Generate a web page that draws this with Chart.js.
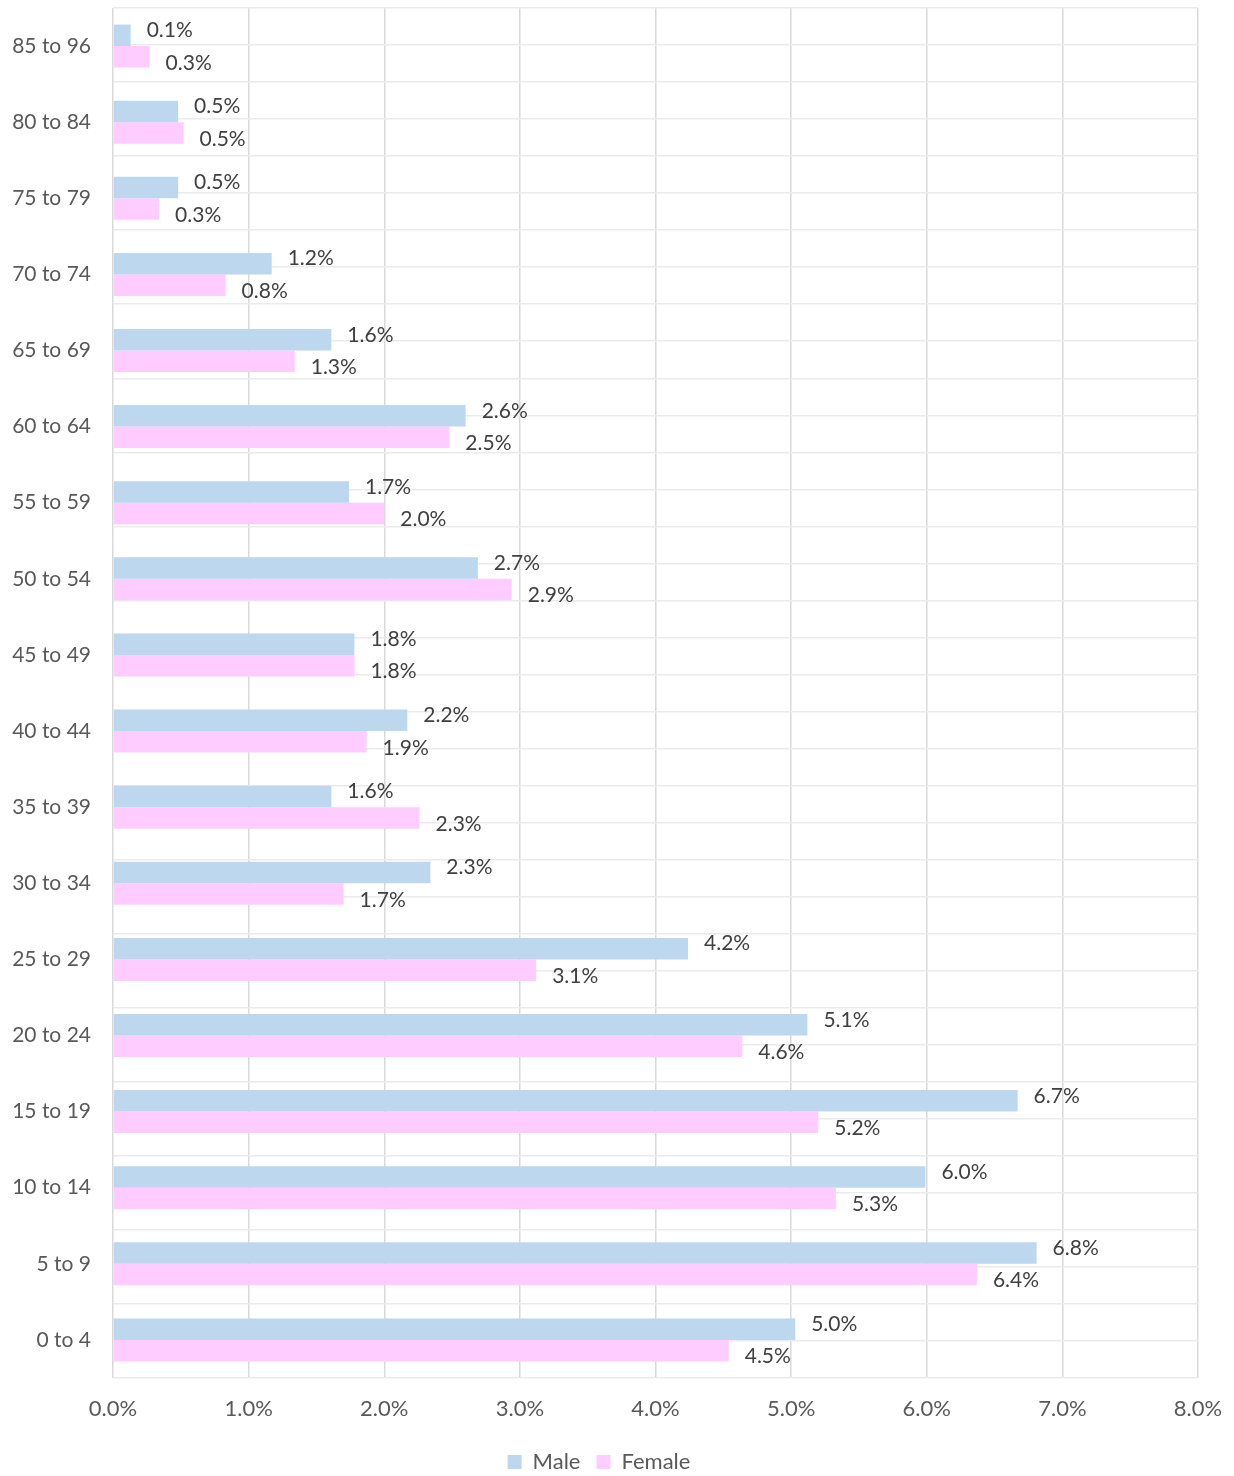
<!DOCTYPE html>
<html>
<head>
<meta charset="utf-8">
<script src="https://cdn.jsdelivr.net/npm/chart.js@4.4.1/dist/chart.umd.min.js"></script>
<style>
  body { margin: 0; background: #ffffff; }
  #wrap { width: 1234px; height: 1476px; }
</style>
</head>
<body>
<div id="wrap"><canvas id="popChart" width="1234" height="1476"></canvas></div>
<script>
//age groups, top to bottom as in the picture
const ageGroups = [
  "85 to 96", "80 to 84", "75 to 79", "70 to 74", "65 to 69", "60 to 64",
  "55 to 59", "50 to 54", "45 to 49", "40 to 44", "35 to 39", "30 to 34",
  "25 to 29", "20 to 24", "15 to 19", "10 to 14", "5 to 9", "0 to 4"
];
//percent of population, male
const maleValues = [
  0.13, 0.48, 0.48, 1.17, 1.61, 2.6, 1.74, 2.69, 1.78,
  2.17, 1.61, 2.34, 4.24, 5.12, 6.67, 5.99, 6.81, 5.03
];
//percent of population, female
const femaleValues = [
  0.27, 0.52, 0.34, 0.83, 1.34, 2.48, 2.0, 2.94, 1.78,
  1.87, 2.26, 1.7, 3.12, 4.64, 5.2, 5.33, 6.37, 4.54
];
const xTicks = [0, 1, 2, 3, 4, 5, 6, 7, 8];

const FONT = "Lato, 'Open Sans', sans-serif";

/**
 * writes the value at the end of every bar, Excel style
 */
const barLabels = {
  id: "barLabels",
  afterDatasetsDraw(chart) {
    const ctx = chart.ctx;
    ctx.save();
    ctx.font = "21px " + FONT;
    ctx.fillStyle = "#404040";
    ctx.textAlign = "left";
    ctx.textBaseline = "middle";
    chart.data.datasets.forEach((ds, di) => {
      const meta = chart.getDatasetMeta(di);
      const shift = di === 0 ? -5 : 6; //male sits a bit high, female a bit low
      meta.data.forEach((bar, i) => {
        ctx.fillText(ds.data[i].toFixed(1) + "%", bar.x + 16, bar.y + shift);
      });
    });
    ctx.restore();
  },
};

const ctx = document.getElementById("popChart").getContext("2d");
new Chart(ctx, {
  type: "bar",
  data: {
    labels: ageGroups,
    datasets: [
      {
        label: "Male",
        data: maleValues,
        backgroundColor: "#BDD7EE",
        borderWidth: 0,
        categoryPercentage: 0.565,
        barPercentage: 1.0,
      },
      {
        label: "Female",
        data: femaleValues,
        backgroundColor: "#FFCCFF",
        borderWidth: 0,
        categoryPercentage: 0.565,
        barPercentage: 1.0,
      },
    ],
  },
  options: {
    indexAxis: "y",
    responsive: false,
    animation: false,
    //negative bottom pushes the legend a little lower, as in the reference
    layout: { padding: { top: 8, right: 36, left: 0, bottom: -7 } },
    scales: {
      x: {
        min: 0,
        max: 8,
        afterBuildTicks: (scale) => {
          scale.ticks = xTicks.map((v) => ({ value: v }));
        },
        afterFit: (scale) => {
          scale.height = 57;
          scale.paddingLeft = 0;
          scale.paddingRight = 0;
        },
        ticks: {
          callback: (v) => v.toFixed(1) + "%",
          color: "#595959",
          font: { family: FONT, size: 22 },
          padding: 18,
        },
        grid: { color: "#d9d9d9", lineWidth: 1.5, drawTicks: false },
        border: { display: false },
      },
      y: {
        afterFit: (scale) => {
          scale.width = 113;
          scale.paddingTop = 0;
          scale.paddingBottom = 0;
        },
        ticks: {
          color: "#595959",
          font: { family: FONT, size: 21 },
          padding: 22,
        },
        grid: { display: false, drawTicks: false },
        border: { display: false },
      },
      //half-row lines, like the reference's horizontal gridlines
      rows: {
        type: "linear",
        position: "right",
        min: 0,
        max: ageGroups.length * 2,
        ticks: { display: false, stepSize: 1 },
        grid: { color: "#ebebeb", lineWidth: 1.5, drawTicks: false },
        border: { display: false },
        afterFit: (scale) => {
          scale.width = 0;
          scale.paddingTop = 0;
          scale.paddingBottom = 0;
        },
      },
    },
    plugins: {
      legend: {
        position: "bottom",
        labels: {
          color: "#595959",
          font: { family: FONT, size: 22 },
          boxWidth: 14,
          boxHeight: 14,
          padding: 16,
        },
      },
      tooltip: { enabled: false },
    },
  },
  plugins: [barLabels],
});
</script>
</body>
</html>
